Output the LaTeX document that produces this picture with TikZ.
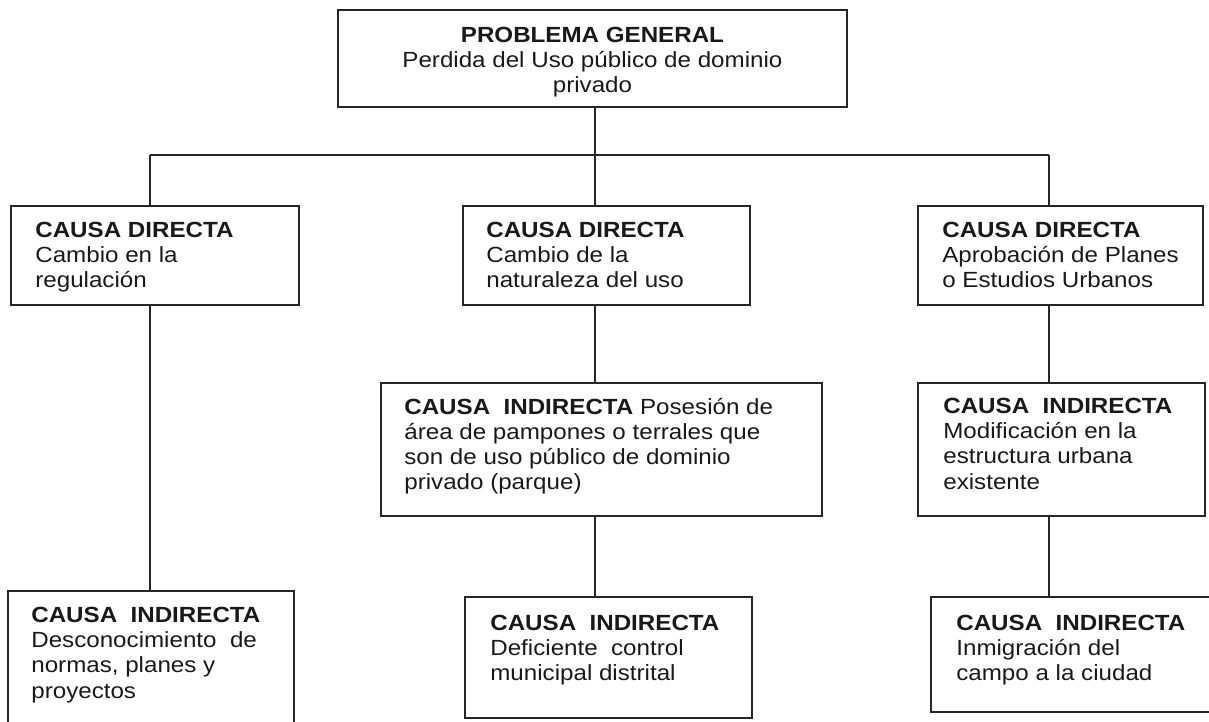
\documentclass[tikz,border=0pt]{standalone}
\usepackage{fontspec}
\setmainfont{Liberation Sans}[FakeStretch=1.1]
\begin{document}
\begin{tikzpicture}[x=0.02cm, y=-0.02cm]

    % Estilos
    \tikzstyle{caja} = [rectangle, draw=black!85, line width=1pt, inner sep=0pt, outer sep=0pt, anchor=north west]
    \tikzstyle{texto} = [inner sep=0pt, anchor=north west, align=left, text=black!90, font=\fontsize{12.5}{14.3}\selectfont]
    \tikzstyle{linea} = [draw=black!85, line width=1pt]

    \useasboundingbox (0,0) rectangle (1209,722);

    % Cajas
    \node (general) [caja, minimum width=10.18cm, minimum height=1.94cm] at (338,10) {};
    \node (regulacion) [caja, minimum width=5.76cm, minimum height=1.98cm] at (11,206) {};
    \node (naturaleza) [caja, minimum width=5.74cm, minimum height=1.98cm] at (463,206) {};
    \node (planes) [caja, minimum width=5.70cm, minimum height=1.98cm] at (918,206) {};
    \node (posesion) [caja, minimum width=8.82cm, minimum height=2.66cm] at (381,383) {};
    \node (estructura) [caja, minimum width=5.74cm, minimum height=2.66cm] at (918,383) {};
    \node (desconocimiento) [caja, minimum width=5.72cm, minimum height=2.78cm] at (8,591) {};
    \node (control) [caja, minimum width=5.74cm, minimum height=2.42cm] at (465,597) {};
    \node (inmigracion) [caja, minimum width=5.68cm, minimum height=2.30cm] at (931,597) {};

    % Textos
    \node [texto, anchor=north, align=center] at ([yshift=-0.34cm]general.north)
        {\textbf{PROBLEMA GENERAL}\\Perdida del Uso público de dominio\\privado};
    \node [texto] at ([shift={(0.48cm,-0.32cm)}]regulacion.north west)
        {\textbf{CAUSA DIRECTA}\\Cambio en la\\regulación};
    \node [texto] at ([shift={(0.46cm,-0.32cm)}]naturaleza.north west)
        {\textbf{CAUSA DIRECTA}\\Cambio de la\\naturaleza del uso};
    \node [texto] at ([shift={(0.48cm,-0.32cm)}]planes.north west)
        {\textbf{CAUSA DIRECTA}\\Aprobación de Planes\\o Estudios Urbanos};
    \node [texto] at ([shift={(0.46cm,-0.30cm)}]posesion.north west)
        {\textbf{CAUSA\ \ INDIRECTA} Posesión de\\área de pampones o terrales que\\son de uso público de dominio\\privado (parque)};
    \node [texto] at ([shift={(0.50cm,-0.30cm)}]estructura.north west)
        {\textbf{CAUSA\ \ INDIRECTA}\\Modificación en la\\estructura urbana\\existente};
    \node [texto] at ([shift={(0.46cm,-0.32cm)}]desconocimiento.north west)
        {\textbf{CAUSA\ \ INDIRECTA}\\Desconocimiento\ \ de\\normas, planes y\\proyectos};
    \node [texto] at ([shift={(0.50cm,-0.36cm)}]control.north west)
        {\textbf{CAUSA\ \ INDIRECTA}\\Deficiente\ \ control\\municipal distrital};
    \node [texto] at ([shift={(0.50cm,-0.36cm)}]inmigracion.north west)
        {\textbf{CAUSA\ \ INDIRECTA}\\Inmigración del\\campo a la ciudad};

    % Lineas
    \coordinate (ramaI) at (150,155);
    \coordinate (eje) at (595,155);
    \coordinate (ramaD) at (1049,155);
    \draw [linea] (general.south -| eje) -- (eje);
    \draw [linea] (ramaI) -- (ramaD);
    \draw [linea] (ramaI) -- (ramaI |- regulacion.north);
    \draw [linea] (eje) -- (eje |- naturaleza.north);
    \draw [linea] (ramaD) -- (ramaD |- planes.north);
    \draw [linea] (regulacion.south -| ramaI) -- (ramaI |- desconocimiento.north);
    \draw [linea] (naturaleza.south -| eje) -- (eje |- posesion.north);
    \draw [linea] (posesion.south -| eje) -- (eje |- control.north);
    \draw [linea] (planes.south -| ramaD) -- (ramaD |- estructura.north);
    \draw [linea] (estructura.south -| ramaD) -- (ramaD |- inmigracion.north);

\end{tikzpicture}
\end{document}
